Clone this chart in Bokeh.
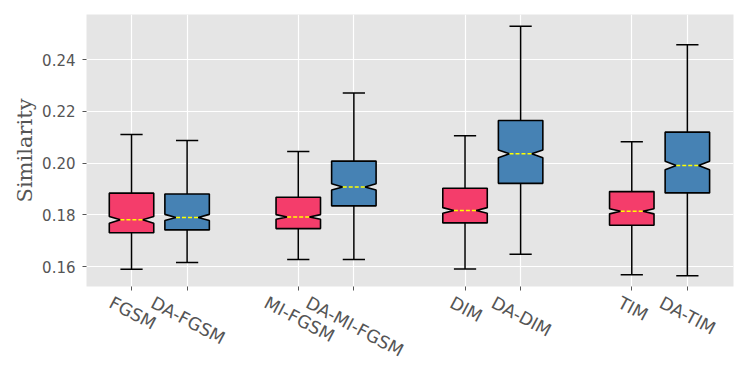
import numpy as np
from bokeh.plotting import figure
from bokeh.models import Range1d, FixedTicker, LinearAxis
from bokeh.embed import file_html
from bokeh.resources import INLINE

# ---------------- data ----------------
methods = ["FGSM", "DA-FGSM", "MI-FGSM", "DA-MI-FGSM", "DIM", "DA-DIM", "TIM", "DA-TIM"]
positions = [1, 2, 4, 5, 7, 8, 10, 11]
whisker_low = [0.1590, 0.1616, 0.1627, 0.1627, 0.1591, 0.1648, 0.1568, 0.1565]
q1 = [0.1731, 0.1742, 0.1747, 0.1835, 0.1769, 0.1922, 0.1760, 0.1885]
median = [0.1781, 0.1790, 0.1792, 0.1908, 0.1817, 0.2036, 0.1814, 0.1991]
q3 = [0.1884, 0.1881, 0.1868, 0.2008, 0.1903, 0.2165, 0.1890, 0.2120]
whisker_high = [0.2111, 0.2088, 0.2045, 0.2271, 0.2106, 0.2530, 0.2083, 0.2458]
notch_half = [0.0013, 0.0012, 0.0009, 0.0012, 0.0011, 0.0015, 0.0010, 0.0016]
y_ticks = [0.16, 0.18, 0.20, 0.22, 0.24]
y_tick_labels = ["0.16", "0.18", "0.20", "0.22", "0.24"]

# ---------------- style ----------------
colors = ["#F43D6B", "#4682B4"] * 4
box_w = 0.8
cap_w = 0.4
x_start, x_end = 0.19, 11.83
y_start, y_end = 0.1523, 0.2575
W, H = 741, 374
ml, mr, mt, mb = 86, 8, 14, 88
frame_w = W - ml - mr

p = figure(width=W, height=H, output_backend="svg", toolbar_location=None,
           x_range=Range1d(x_start, x_end), y_range=Range1d(y_start, y_end),
           min_border_left=ml, min_border_right=mr, min_border_top=mt,
           min_border_bottom=mb)
p.background_fill_color = "#E5E5E5"
p.border_fill_color = "white"
p.outline_line_color = None

# axes
p.xaxis.ticker = FixedTicker(ticks=positions)
p.xaxis.major_label_text_font_size = "0px"
p.xaxis.major_label_standoff = 0
p.xaxis.major_label_overrides = {pos: "" for pos in positions}
p.yaxis.ticker = FixedTicker(ticks=y_ticks)
p.yaxis.major_label_overrides = {t: l for t, l in zip(y_ticks, y_tick_labels)}
for ax in (p.xaxis[0], p.yaxis[0]):
    ax.axis_line_color = None
    ax.major_tick_out = 4
    ax.major_tick_in = 0
    ax.minor_tick_line_color = None
    ax.major_tick_line_color = "#555555"
    ax.major_label_text_color = "#555555"
    ax.major_label_text_font = "DejaVu Sans"
p.yaxis.major_label_text_font_size = "15px"
p.yaxis.major_label_standoff = 7
p.yaxis.axis_label = "Similarity"
p.yaxis.axis_label_text_font = "DejaVu Serif"
p.yaxis.axis_label_text_font_size = "21px"
p.yaxis.axis_label_text_font_style = "normal"
p.yaxis.axis_label_text_color = "#555555"
p.yaxis.axis_label_standoff = 2

# grid
p.xgrid.ticker = FixedTicker(ticks=positions)
p.xgrid.grid_line_color = "white"
p.ygrid.grid_line_color = "white"
p.xgrid.grid_line_width = 1.2
p.ygrid.grid_line_width = 1.2

# rotated category labels: a second axis, ticks shifted so each label is centred on its box
char_w = {"D": 0.770, "A": 0.684, "-": 0.361, "M": 0.863, "I": 0.295,
          "F": 0.575, "G": 0.775, "S": 0.635, "T": 0.611}
fs = 17.5
ang = np.deg2rad(28)
px_per_unit = frame_w / (x_end - x_start)
label_ticks = []
for x, name in zip(positions, methods):
    L = sum(char_w[c] for c in name) * fs
    label_ticks.append(round(x - (L * np.cos(ang) / 2) / px_per_unit + 0.02, 4))
lab_axis = LinearAxis(ticker=FixedTicker(ticks=label_ticks),
                      major_label_overrides={t: n for t, n in zip(label_ticks, methods)},
                      major_label_orientation=-ang,
                      major_label_text_font="DejaVu Sans",
                      major_label_text_font_size=f"{fs}px",
                      major_label_text_color="#555555",
                      major_label_standoff=5,
                      major_tick_line_color=None, minor_tick_line_color=None,
                      axis_line_color=None)
p.add_layout(lab_axis, "below")

# ---------------- boxes ----------------
# whiskers
p.segment(x0=positions, y0=q3, x1=positions, y1=whisker_high, line_color="black", line_width=1.5)
p.segment(x0=positions, y0=q1, x1=positions, y1=whisker_low, line_color="black", line_width=1.5)
# caps
xl = [x - cap_w / 2 for x in positions]
xr = [x + cap_w / 2 for x in positions]
p.segment(x0=xl, y0=whisker_high, x1=xr, y1=whisker_high, line_color="black", line_width=1.5)
p.segment(x0=xl, y0=whisker_low, x1=xr, y1=whisker_low, line_color="black", line_width=1.5)

# notched boxes
xs, ys = [], []
for x, a, m, b, n in zip(positions, q1, median, q3, notch_half):
    bl, br = x - box_w / 2, x + box_w / 2
    cl, cr = x - cap_w / 2, x + cap_w / 2
    xs.append([bl, br, br, cr, br, br, bl, bl, cl, bl, bl])
    ys.append([a, a, m - n, m, m + n, b, b, m + n, m, m - n, a])
p.patches(xs=xs, ys=ys, fill_color=colors, line_color="black", line_width=1.6)

# medians
p.segment(x0=xl, y0=median, x1=xr, y1=median, line_color="#FFFF00",
          line_width=1.5, line_dash="4 2")

open("out.html", "w").write(file_html(p, INLINE))
